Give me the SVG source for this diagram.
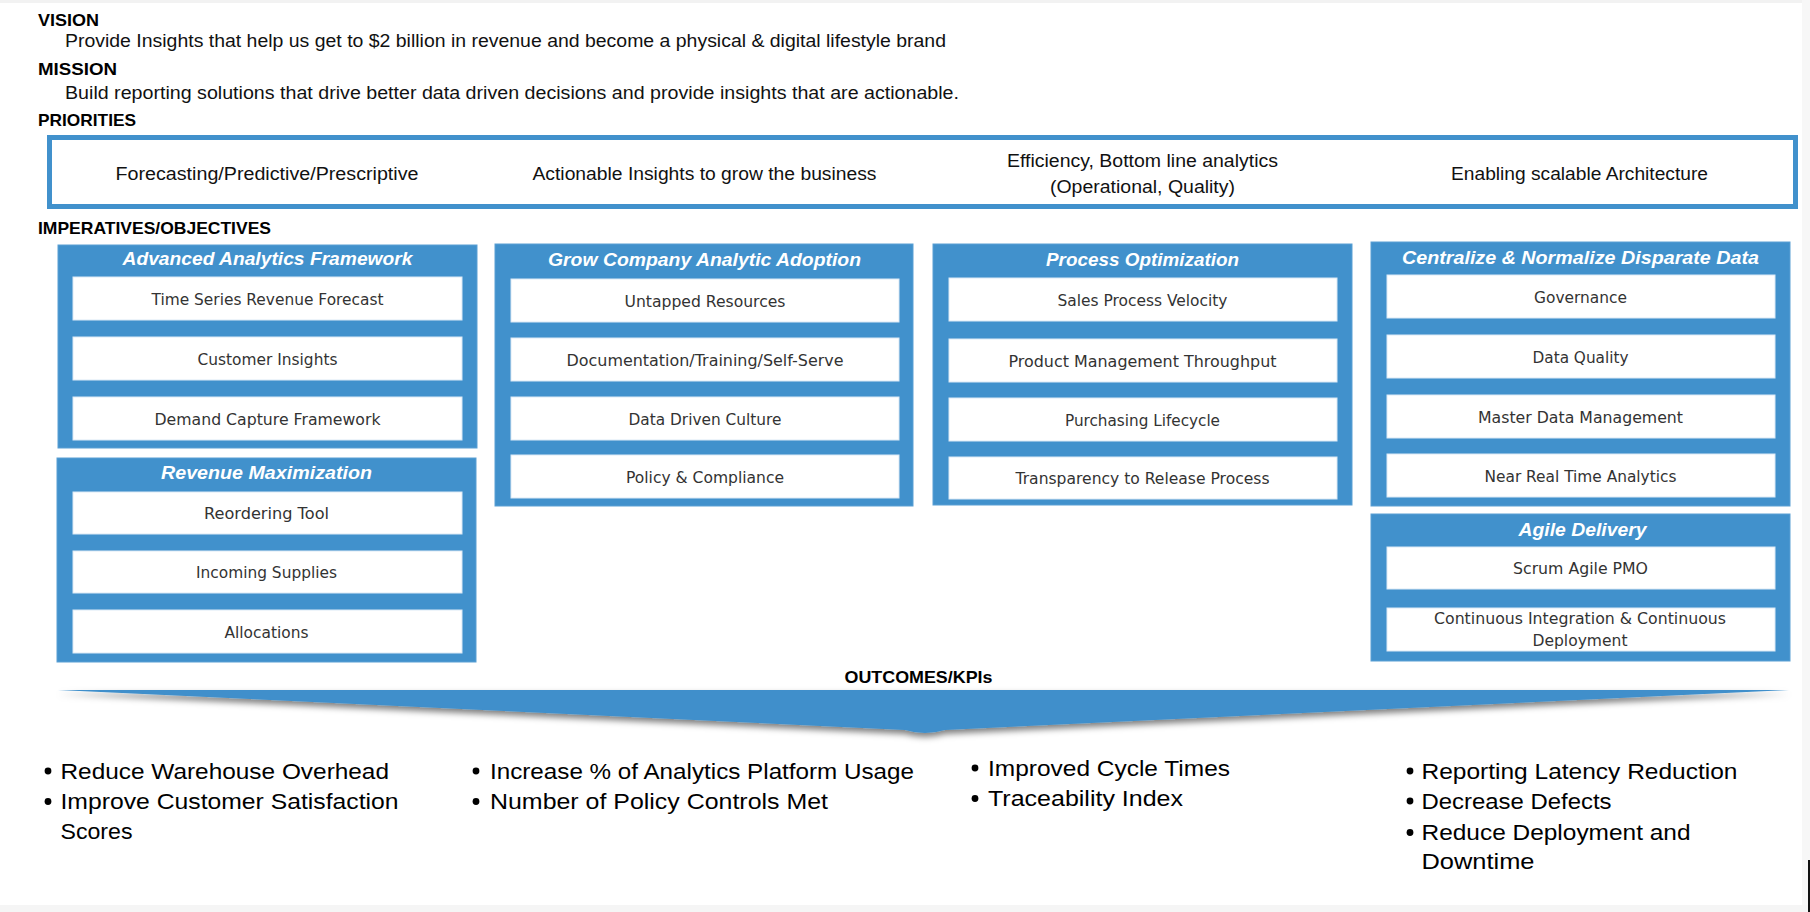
<svg xmlns="http://www.w3.org/2000/svg" width="1810" height="912" viewBox="0 0 1810 912">
<defs>
<style>
.hd{font-family:"Liberation Sans",Arial,sans-serif;font-weight:bold;font-size:16.5px;fill:#000}
.bd{font-family:"Liberation Sans",Arial,sans-serif;font-size:17.5px;fill:#111}
.pr{font-family:"Liberation Sans",Arial,sans-serif;font-size:17.5px;fill:#111}
.panel{fill:#4191cc;stroke:#5a9fd4;stroke-width:1}
.item{fill:#fff;stroke:#dbe9f5;stroke-width:1}
.ttl{font-family:"Liberation Sans",Arial,sans-serif;font-weight:bold;font-style:italic;font-size:19px;fill:#fff;text-anchor:middle}
.it{font-family:"DejaVu Sans",Verdana,sans-serif;font-size:15px;fill:#333;text-anchor:middle}
.kpi{font-family:"Liberation Sans",Arial,sans-serif;font-size:22.5px;fill:#000}
.bul{fill:#000}
</style>
<filter id="shadow" x="-5%" y="-50%" width="110%" height="250%">
<feDropShadow dx="0" dy="4" stdDeviation="3" flood-color="#000" flood-opacity="0.5"/>
</filter>
</defs>

<rect x="0" y="0" width="1810" height="912" fill="#fff"/>
<rect x="0" y="0" width="1810" height="3" fill="#f2f2f2"/>
<rect x="1802" y="0" width="8" height="912" fill="#f7f7f7"/>
<rect x="0" y="905" width="1810" height="7" fill="#f5f5f5"/>
<rect x="1808" y="860" width="2" height="52" fill="#111"/>

<g id="header">
<text class="hd" x="38" y="26" textLength="61" lengthAdjust="spacingAndGlyphs">VISION</text>
<text class="bd" x="65" y="46.5" textLength="881" lengthAdjust="spacingAndGlyphs">Provide Insights that help us get to $2 billion in revenue and become a physical &amp; digital lifestyle brand</text>
<text class="hd" x="38" y="74.5" textLength="79" lengthAdjust="spacingAndGlyphs">MISSION</text>
<text class="bd" x="65" y="99" textLength="894" lengthAdjust="spacingAndGlyphs">Build reporting solutions that drive better data driven decisions and provide insights that are actionable.</text>
<text class="hd" x="38" y="125.5" textLength="98" lengthAdjust="spacingAndGlyphs">PRIORITIES</text>
</g>

<g id="priorities">
<rect x="49.5" y="137.5" width="1746" height="69" fill="#fff" stroke="#4191cc" stroke-width="5"/>
<text class="pr" x="115.5" y="180" textLength="303" lengthAdjust="spacingAndGlyphs">Forecasting/Predictive/Prescriptive</text>
<text class="pr" x="532.5" y="180" textLength="344" lengthAdjust="spacingAndGlyphs">Actionable Insights to grow the business</text>
<text class="pr" x="1007" y="167" textLength="271" lengthAdjust="spacingAndGlyphs">Efficiency, Bottom line analytics</text>
<text class="pr" x="1050" y="193" textLength="185" lengthAdjust="spacingAndGlyphs">(Operational, Quality)</text>
<text class="pr" x="1451" y="180" textLength="257" lengthAdjust="spacingAndGlyphs">Enabling scalable Architecture</text>
</g>

<g id="imperatives-label">
<text class="hd" x="38" y="233.5" textLength="233" lengthAdjust="spacingAndGlyphs">IMPERATIVES/OBJECTIVES</text>
</g>

<g id="advanced-analytics-framework">
<rect class="panel" x="58" y="245" width="419" height="203"/>
<text class="ttl" x="267.5" y="265" textLength="290" lengthAdjust="spacingAndGlyphs">Advanced Analytics Framework</text>
<rect class="item" x="73" y="277" width="389" height="43"/>
<text class="it" x="267.5" y="304.5" textLength="232" lengthAdjust="spacingAndGlyphs">Time Series Revenue Forecast</text>
<rect class="item" x="73" y="337" width="389" height="43"/>
<text class="it" x="267.5" y="364.5" textLength="140" lengthAdjust="spacingAndGlyphs">Customer Insights</text>
<rect class="item" x="73" y="397" width="389" height="43"/>
<text class="it" x="267.5" y="424.5" textLength="226" lengthAdjust="spacingAndGlyphs">Demand Capture Framework</text>
</g>

<g id="revenue-maximization">
<rect class="panel" x="57" y="458" width="419" height="204"/>
<text class="ttl" x="266.5" y="479" textLength="211" lengthAdjust="spacingAndGlyphs">Revenue Maximization</text>
<rect class="item" x="73" y="492" width="389" height="42"/>
<text class="it" x="266.5" y="519" textLength="125" lengthAdjust="spacingAndGlyphs">Reordering Tool</text>
<rect class="item" x="73" y="551" width="389" height="42"/>
<text class="it" x="266.5" y="578" textLength="141" lengthAdjust="spacingAndGlyphs">Incoming Supplies</text>
<rect class="item" x="73" y="610" width="389" height="43"/>
<text class="it" x="266.5" y="637.5" textLength="84" lengthAdjust="spacingAndGlyphs">Allocations</text>
</g>

<g id="grow-company-analytic-adoption">
<rect class="panel" x="495" y="244" width="418" height="262"/>
<text class="ttl" x="704.5" y="266" textLength="313" lengthAdjust="spacingAndGlyphs">Grow Company Analytic Adoption</text>
<rect class="item" x="511" y="279" width="388" height="43"/>
<text class="it" x="705" y="306.5" textLength="161" lengthAdjust="spacingAndGlyphs">Untapped Resources</text>
<rect class="item" x="511" y="338" width="388" height="43"/>
<text class="it" x="705" y="365.5" textLength="277" lengthAdjust="spacingAndGlyphs">Documentation/Training/Self-Serve</text>
<rect class="item" x="511" y="397" width="388" height="43"/>
<text class="it" x="705" y="424.5" textLength="153" lengthAdjust="spacingAndGlyphs">Data Driven Culture</text>
<rect class="item" x="511" y="455" width="388" height="43"/>
<text class="it" x="705" y="482.5" textLength="158" lengthAdjust="spacingAndGlyphs">Policy &amp; Compliance</text>
</g>

<g id="process-optimization">
<rect class="panel" x="933" y="244" width="419" height="261"/>
<text class="ttl" x="1142.5" y="266" textLength="193" lengthAdjust="spacingAndGlyphs">Process Optimization</text>
<rect class="item" x="949" y="278" width="388" height="43"/>
<text class="it" x="1142.5" y="305.5" textLength="170" lengthAdjust="spacingAndGlyphs">Sales Process Velocity</text>
<rect class="item" x="949" y="339" width="388" height="43"/>
<text class="it" x="1142.5" y="366.5" textLength="268" lengthAdjust="spacingAndGlyphs">Product Management Throughput</text>
<rect class="item" x="949" y="398" width="388" height="43"/>
<text class="it" x="1142.5" y="425.5" textLength="155" lengthAdjust="spacingAndGlyphs">Purchasing Lifecycle</text>
<rect class="item" x="949" y="457" width="388" height="42"/>
<text class="it" x="1142.5" y="484" textLength="254" lengthAdjust="spacingAndGlyphs">Transparency to Release Process</text>
</g>

<g id="centralize-normalize-disparate-data">
<rect class="panel" x="1371" y="242" width="419" height="264"/>
<text class="ttl" x="1580.5" y="264" textLength="357" lengthAdjust="spacingAndGlyphs">Centralize &amp; Normalize Disparate Data</text>
<rect class="item" x="1387" y="275" width="388" height="43"/>
<text class="it" x="1580.5" y="302.5" textLength="93" lengthAdjust="spacingAndGlyphs">Governance</text>
<rect class="item" x="1387" y="335" width="388" height="43"/>
<text class="it" x="1580.5" y="362.5" textLength="96" lengthAdjust="spacingAndGlyphs">Data Quality</text>
<rect class="item" x="1387" y="395" width="388" height="43"/>
<text class="it" x="1580.5" y="422.5" textLength="205" lengthAdjust="spacingAndGlyphs">Master Data Management</text>
<rect class="item" x="1387" y="454" width="388" height="43"/>
<text class="it" x="1580.5" y="481.5" textLength="192" lengthAdjust="spacingAndGlyphs">Near Real Time Analytics</text>
</g>

<g id="agile-delivery">
<rect class="panel" x="1371" y="514" width="419" height="147"/>
<text class="ttl" x="1582.5" y="536" textLength="128" lengthAdjust="spacingAndGlyphs">Agile Delivery</text>
<rect class="item" x="1387" y="547" width="388" height="42"/>
<text class="it" x="1580.5" y="574" textLength="135" lengthAdjust="spacingAndGlyphs">Scrum Agile PMO</text>
<rect class="item" x="1387" y="608" width="388" height="43"/>
<text class="it" x="1580" y="623.5" textLength="292" lengthAdjust="spacingAndGlyphs">Continuous Integration &amp; Continuous</text>
<text class="it" x="1580" y="646" textLength="95" lengthAdjust="spacingAndGlyphs">Deployment</text>
</g>

<g id="connectors">
<g id="outcomes-arrow">
<path d="M58,690 L1789,690 L945,730 Q925,736 905,730 Z" fill="#3f8fcb" filter="url(#shadow)"/>
</g>
</g>

<g id="outcomes-label">
<text class="hd" x="844.5" y="683" textLength="148" lengthAdjust="spacingAndGlyphs">OUTCOMES/KPIs</text>
</g>

<g id="kpis-1">
<circle class="bul" cx="48" cy="771" r="3.4"/>
<text class="kpi" x="60.5" y="778.5" textLength="328.5" lengthAdjust="spacingAndGlyphs">Reduce Warehouse Overhead</text>
<circle class="bul" cx="48" cy="801.5" r="3.4"/>
<text class="kpi" x="60.5" y="809" textLength="338" lengthAdjust="spacingAndGlyphs">Improve Customer Satisfaction</text>
<text class="kpi" x="60.5" y="838.5" textLength="72" lengthAdjust="spacingAndGlyphs">Scores</text>
</g>

<g id="kpis-2">
<circle class="bul" cx="476" cy="771" r="3.4"/>
<text class="kpi" x="490" y="778.5" textLength="424" lengthAdjust="spacingAndGlyphs">Increase % of Analytics Platform Usage</text>
<circle class="bul" cx="476" cy="801.5" r="3.4"/>
<text class="kpi" x="490" y="809" textLength="338" lengthAdjust="spacingAndGlyphs">Number of Policy Controls Met</text>
</g>

<g id="kpis-3">
<circle class="bul" cx="975" cy="768" r="3.4"/>
<text class="kpi" x="988" y="775.5" textLength="242" lengthAdjust="spacingAndGlyphs">Improved Cycle Times</text>
<circle class="bul" cx="975" cy="798.5" r="3.4"/>
<text class="kpi" x="988" y="806" textLength="195" lengthAdjust="spacingAndGlyphs">Traceability Index</text>
</g>

<g id="kpis-4">
<circle class="bul" cx="1410" cy="771" r="3.4"/>
<text class="kpi" x="1421.5" y="778.5" textLength="316" lengthAdjust="spacingAndGlyphs">Reporting Latency Reduction</text>
<circle class="bul" cx="1410" cy="801" r="3.4"/>
<text class="kpi" x="1421.5" y="808.5" textLength="190" lengthAdjust="spacingAndGlyphs">Decrease Defects</text>
<circle class="bul" cx="1410" cy="832.5" r="3.4"/>
<text class="kpi" x="1421.5" y="840" textLength="269" lengthAdjust="spacingAndGlyphs">Reduce Deployment and</text>
<text class="kpi" x="1421.5" y="868.5" textLength="113" lengthAdjust="spacingAndGlyphs">Downtime</text>
</g>
</svg>
